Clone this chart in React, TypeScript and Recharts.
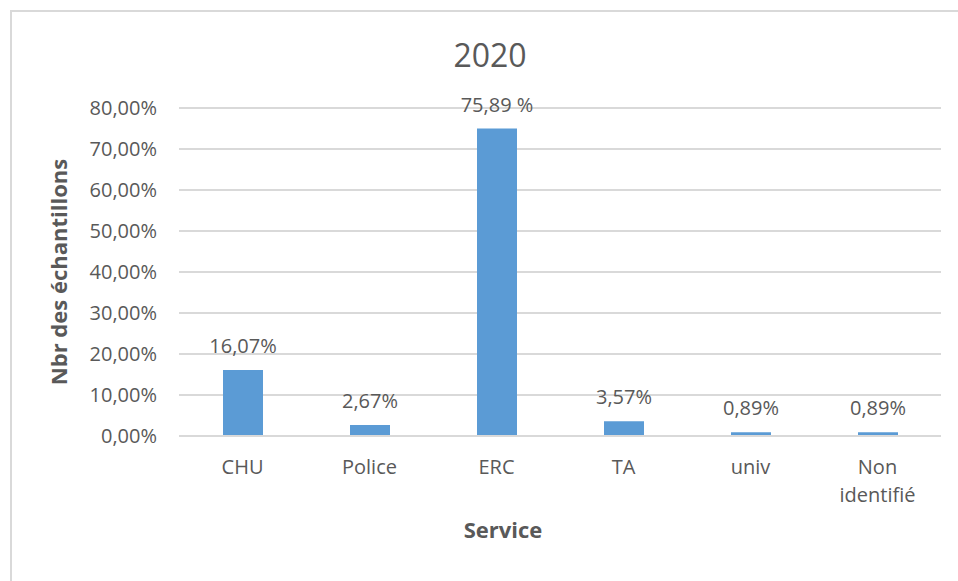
import { BarChart, Bar, XAxis, YAxis, CartesianGrid, LabelList } from 'recharts';

const services = ['CHU', 'Police', 'ERC', 'TA', 'univ', 'Non identifié'];
const shares = [0.1607, 0.0267, 0.75, 0.0357, 0.0089, 0.0089];
const shareLabels = ['16,07%', '2,67%', '75,89 %', '3,57%', '0,89%', '0,89%'];
const yTicks = [0, 0.1, 0.2, 0.3, 0.4, 0.5, 0.6, 0.7, 0.8];

const data = services.map((name, i) => ({ name, value: shares[i], label: shareLabels[i] }));

const FONT = '"Open Sans", sans-serif';
const TEXT = '#595959';

const fmtPct = (v: number) => (v * 100).toFixed(2).replace('.', ',') + '%';

// wraps long category names onto two lines like the original
function ServiceTick(props: any) {
  const { x, y, payload } = props;
  const words = payload.value.length > 8 ? payload.value.split(' ') : [payload.value];
  return (
    <text x={x} y={y} textAnchor="middle" fill={TEXT} fontFamily={FONT} fontSize={20}>
      {words.map((w: string, i: number) => (
        <tspan key={i} x={x} dy={i === 0 ? 30 : 28}>{w}</tspan>
      ))}
    </text>
  );
}

// single-line value label above each bar
function ValueLabel(props: any) {
  const { x, y, width, value } = props;
  return (
    <text x={Number(x) + Number(width) / 2} y={Number(y) - 17} textAnchor="middle" fill={TEXT} fontFamily={FONT} fontSize={20}>
      {value}
    </text>
  );
}

function App() {
  return (
    <div style={{ position: 'absolute', left: 0, top: 0, width: 958, height: 581, overflow: 'hidden', background: '#fff', fontFamily: FONT }}>
      <div style={{ position: 'absolute', left: 10, top: 10, width: 1000, height: 700, border: '2px solid #d9d9d9' }} />
      <div style={{ position: 'absolute', left: 0, top: 33, width: 980, textAlign: 'center', fontSize: 32, color: TEXT }}>2020</div>
      <BarChart width={958} height={581} data={data} margin={{ top: 108, right: 17, bottom: 0, left: 0 }}>
        <CartesianGrid vertical={false} stroke="#d9d9d9" strokeWidth={2} />
        <XAxis
          dataKey="name"
          height={145}
          tickLine={false}
          axisLine={{ stroke: '#d9d9d9', strokeWidth: 2 }}
          tick={<ServiceTick />}
          interval={0}
          label={{ value: 'Service', position: 'insideBottom', offset: 43, dx: -57, fill: TEXT, fontSize: 22, fontWeight: 'bold', fontFamily: FONT }}
        />
        <YAxis
          width={179}
          domain={[0, 0.8]}
          ticks={yTicks}
          tickFormatter={fmtPct}
          tickLine={false}
          axisLine={false}
          tickMargin={16}
          tick={{ fill: TEXT, fontSize: 20, fontFamily: FONT }}
          label={{ value: 'Nbr des échantillons', angle: -90, position: 'insideLeft', offset: 59, fill: TEXT, fontSize: 22, fontWeight: 'bold', fontFamily: FONT, style: { textAnchor: 'middle' } }}
        />
        <Bar dataKey="value" fill="#5b9bd5" barSize={40} isAnimationActive={false}>
          <LabelList dataKey="label" content={<ValueLabel />} />
        </Bar>
      </BarChart>
    </div>
  );
}

export default App;
